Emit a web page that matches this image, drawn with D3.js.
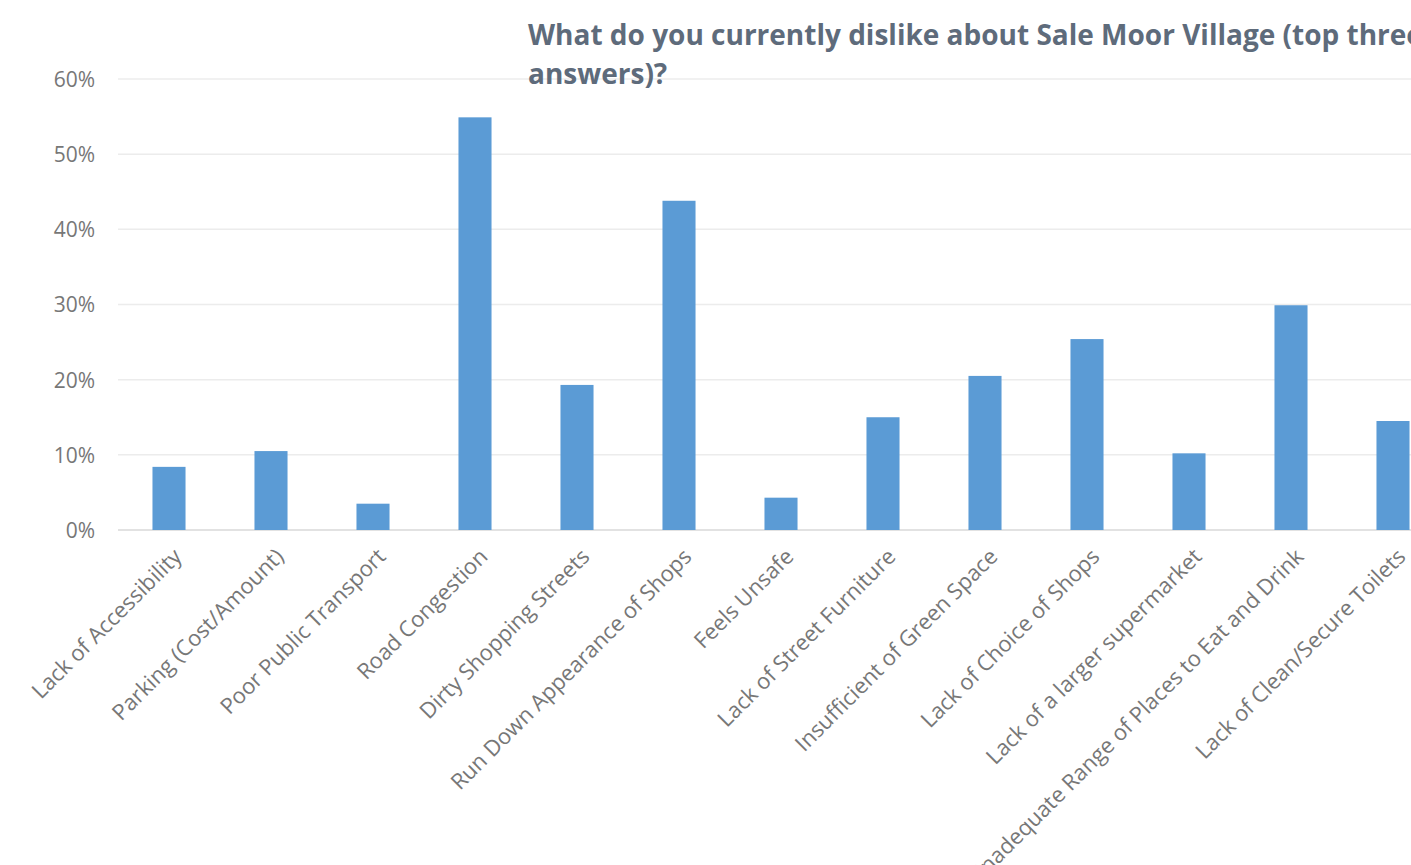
<!DOCTYPE html>
<html>
<head>
<meta charset="utf-8">
<script src="https://cdn.jsdelivr.net/npm/d3@7"></script>
<style>
  html, body { margin: 0; padding: 0; background: #ffffff; overflow: hidden; }
  svg { display: block; }
</style>
</head>
<body>
<svg id="chart" width="1411" height="865"></svg>
<script>
const categories = [
  "Lack of Accessibility",
  "Parking (Cost/Amount)",
  "Poor Public Transport",
  "Road Congestion",
  "Dirty Shopping Streets",
  "Run Down Appearance of Shops",
  "Feels Unsafe",
  "Lack of Street Furniture",
  "Insufficient of Green Space",
  "Lack of Choice of Shops",
  "Lack of a larger supermarket",
  "Inadequate Range of Places to Eat and Drink",
  "Lack of Clean/Secure Toilets"
];
const values = [0.084, 0.105, 0.035, 0.549, 0.193, 0.438, 0.043, 0.150, 0.205, 0.254, 0.102, 0.299, 0.145];
const yTicks = [0, 0.1, 0.2, 0.3, 0.4, 0.5, 0.6];
const titleLines = ["What do you currently dislike about Sale Moor Village (top three", "answers)?"];

const svg = d3.select("#chart");
const plotLeft = 118, plotTop = 79, plotBottom = 530;
const step = 102;
const x = d3.scaleBand()
  .domain(categories)
  .range([plotLeft, plotLeft + step * categories.length])
  .paddingInner(0.676)
  .paddingOuter(0.338);
const y = d3.scaleLinear().domain([0, 0.6]).range([plotBottom, plotTop]);

// gridlines
svg.append("g")
  .selectAll("line")
  .data(yTicks)
  .join("line")
  .attr("x1", plotLeft)
  .attr("x2", plotLeft + step * categories.length)
  .attr("y1", d => y(d))
  .attr("y2", d => y(d))
  .attr("stroke", d => d === 0 ? "#d9d9d9" : "#ececec")
  .attr("stroke-width", 1.5);

// y axis labels
const yAxis = d3.axisLeft(y).tickValues(yTicks).tickFormat(d3.format(".0%")).tickSize(0).tickPadding(0);
const ya = svg.append("g").attr("transform", `translate(95,0)`).call(yAxis);
ya.select(".domain").remove();
ya.selectAll("text")
  .attr("font-family", "'Open Sans', sans-serif")
  .attr("font-size", 21)
  .attr("fill", "#777777")
  .attr("dy", "0.35em");

// bars
svg.append("g")
  .selectAll("rect")
  .data(values)
  .join("rect")
  .attr("x", (d, i) => x(categories[i]))
  .attr("width", x.bandwidth())
  .attr("y", d => y(d))
  .attr("height", d => y(0) - y(d))
  .attr("fill", "#5b9bd5");

// x axis labels
const xAxis = d3.axisBottom(x).tickSize(0).tickPadding(0);
const xa = svg.append("g").attr("transform", `translate(0,${plotBottom})`).call(xAxis);
xa.select(".domain").remove();
xa.selectAll("text")
  .attr("font-family", "'Open Sans', sans-serif")
  .attr("font-size", 22)
  .attr("fill", "#777777")
  .attr("text-anchor", "end")
  .attr("dy", null)
  .attr("y", 0)
  .attr("transform", "translate(14,28) rotate(-45)");

// title
svg.append("g")
  .selectAll("text")
  .data(titleLines)
  .join("text")
  .attr("x", 528)
  .attr("y", (d, i) => 45 + i * 39)
  .attr("font-family", "'Open Sans', sans-serif")
  .attr("font-weight", "bold")
  .attr("font-size", 28)
  .attr("fill", "#5e6b7b")
  .text(d => d);
</script>
</body>
</html>
